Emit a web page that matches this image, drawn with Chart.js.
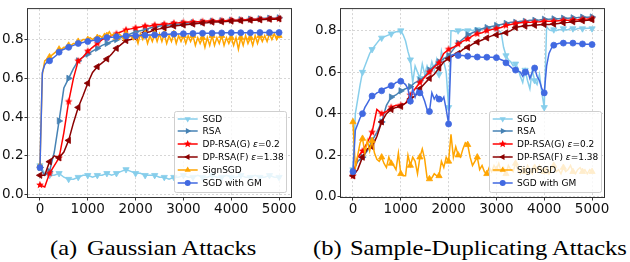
<!DOCTYPE html>
<html><head><meta charset="utf-8">
<script src="https://cdn.jsdelivr.net/npm/chart.js@4.4.1/dist/chart.umd.min.js"></script>
<style>
html,body{margin:0;padding:0;background:#fff;}
body{width:630px;height:262px;position:relative;overflow:hidden;}
canvas{position:absolute;top:0;}
#c1{left:0}#c2{left:313px}
.legend{position:absolute;width:111px;height:80px;border:1px solid #cfcfcf;border-radius:2.5px;background:rgba(255,255,255,0.8);font-family:"DejaVu Sans";font-size:9px;color:#000;}
.row{position:absolute;left:0;height:12px;width:110px;}
.row svg{position:absolute;left:2px;top:0;}
.row span{position:absolute;left:27.5px;top:0;line-height:12px;white-space:nowrap;}
.cap{position:absolute;top:238.4px;font-family:"Liberation Serif","Times New Roman",serif;font-size:21px;line-height:21px;transform:scaleX(1.166);transform-origin:0 0;white-space:nowrap;color:#000;}
</style></head>
<body>
<canvas id="c1" width="300" height="215"></canvas>
<canvas id="c2" width="300" height="215"></canvas>
<div class="legend" id="lg1" style="left:174px;top:111px"></div>
<div class="legend" id="lg2" style="left:488.5px;top:111px"></div>
<div class="cap" style="left:50px">(a)</div><div class="cap" style="left:87.3px">Gaussian Attacks</div>
<div class="cap" style="left:313px">(b)</div><div class="cap" style="left:350px">Sample-Duplicating Attacks</div>
<script>
// ---------- data ----------
const seriesNames = ['SGD','RSA','DP-RSA(G) ε=0.2','DP-RSA(F) ε=1.38','SignSGD','SGD with GM'];
const xTicks = [0,1000,2000,3000,4000,5000];
const yTicks = [0,0.2,0.4,0.6,0.8];

// (a) Gaussian attacks
const gSGD = [0.15,0.11,0.10,0.10,0.11,0.09,0.08,0.08,0.09,0.10,
 0.10,0.09,0.10,0.10,0.11,0.10,0.11,0.12,0.13,0.12,
 0.11,0.11,0.10,0.10,0.10,0.09,0.09,0.08,0.09,0.09,
 0.10,0.09,0.09,0.10,0.09,0.09,0.10,0.09,0.09,0.10,
 0.09,0.09,0.10,0.09,0.09,0.10,0.09,0.09,0.10,0.09,
 0.09];
const gRSA = [0.14,0.10,0.12,0.22,0.38,0.55,0.60,0.65,0.69,0.71,
 0.725,0.74,0.755,0.77,0.78,0.79,0.80,0.81,0.82,0.83,
 0.84,0.845,0.85,0.86,0.865,0.87,0.872,0.875,0.878,0.88,
 0.883,0.885,0.887,0.89,0.89,0.892,0.895,0.895,0.897,0.898,
 0.90,0.90,0.902,0.903,0.905,0.905,0.907,0.91,0.91,0.91,
 0.912];
const gDPG = [0.05,0.04,0.11,0.15,0.19,0.32,0.48,0.60,0.69,0.71,
 0.74,0.76,0.78,0.80,0.81,0.82,0.83,0.84,0.85,0.855,
 0.86,0.865,0.87,0.87,0.875,0.878,0.88,0.882,0.885,0.886,
 0.888,0.89,0.89,0.892,0.893,0.895,0.895,0.896,0.897,0.898,
 0.90,0.90,0.90,0.902,0.903,0.905,0.905,0.906,0.907,0.908,
 0.908];
const gDPF = [0.10,0.10,0.17,0.20,0.19,0.22,0.28,0.37,0.45,0.51,
 0.575,0.63,0.66,0.68,0.70,0.725,0.755,0.775,0.795,0.80,
 0.81,0.82,0.835,0.84,0.85,0.855,0.86,0.865,0.87,0.873,
 0.875,0.878,0.88,0.883,0.885,0.887,0.89,0.89,0.892,0.893,
 0.895,0.896,0.897,0.898,0.90,0.90,0.902,0.903,0.905,0.905,
 0.907];
const gSign = [0.15,0.62,0.69,0.70,0.71,0.72,0.73,0.74,0.75,0.75,
 0.76,0.76,0.77,0.77,0.78,0.78,0.79,0.79,0.80,0.80,
 0.80,0.81,0.80,0.81,0.81,0.82,0.81,0.83,0.82,0.84,
 0.82,0.83,0.81,0.83,0.82,0.80,0.83,0.81,0.82,0.80,
 0.82,0.78,0.83,0.80,0.83,0.78,0.82,0.79,0.83,0.79,
 0.83,0.79,0.83,0.78,0.82,0.79,0.83,0.78,0.82,0.79,
 0.82,0.78,0.82,0.79,0.82,0.77,0.81,0.78,0.81,0.76,
 0.81,0.77,0.82,0.77,0.81,0.78,0.82,0.77,0.81,0.78,
 0.81,0.77,0.81,0.75,0.81,0.77,0.82,0.78,0.81,0.77,
 0.82,0.78,0.82,0.79,0.82,0.79,0.83,0.80,0.83,0.80,
 0.82];
const gGM = [0.14,0.63,0.67,0.685,0.69,0.70,0.71,0.72,0.735,0.745,
 0.75,0.755,0.76,0.765,0.77,0.775,0.78,0.782,0.785,0.788,
 0.79,0.792,0.795,0.797,0.80,0.802,0.805,0.807,0.81,0.81,
 0.812,0.813,0.815,0.815,0.816,0.817,0.818,0.819,0.82,0.82,
 0.82,0.821,0.821,0.822,0.822,0.823,0.823,0.824,0.824,0.825,
 0.825,0.826,0.826,0.827,0.827,0.828,0.828,0.829,0.829,0.83,
 0.83,0.83,0.83,0.831,0.831,0.831,0.832,0.832,0.832,0.833,
 0.833,0.833,0.833,0.834,0.834,0.834,0.834,0.835,0.835,0.835,
 0.835,0.835,0.835,0.835,0.835,0.835,0.835,0.835,0.835,0.835,
 0.835,0.835,0.836,0.836,0.836,0.836,0.836,0.836,0.836,0.836,
 0.836];

// (b) Sample-duplicating attacks
const sSGD = [0.13,0.40,0.47,0.54,0.60,0.63,0.66,0.69,0.71,0.725,
 0.74,0.755,0.765,0.77,0.775,0.78,0.785,0.79,0.795,0.795,
 0.80,0.78,0.75,0.70,0.66,0.55,0.63,0.60,0.57,0.64,
 0.59,0.63,0.60,0.65,0.61,0.66,0.59,0.70,0.65,0.60,
 0.43,0.80,0.80,0.795,0.80,0.80,0.805,0.80,0.80,0.805,
 0.80,0.805,0.805,0.81,0.805,0.81,0.805,0.81,0.81,0.805,
 0.81,0.80,0.79,0.72,0.68,0.66,0.65,0.63,0.64,0.62,
 0.58,0.55,0.61,0.56,0.52,0.61,0.56,0.54,0.59,0.50,
 0.43,0.82,0.805,0.80,0.805,0.80,0.805,0.805,0.81,0.805,
 0.805,0.81,0.81,0.805,0.81,0.81,0.81,0.81,0.812,0.812,
 0.81];
const sRSA = [0.12,0.17,0.19,0.22,0.27,0.31,0.36,0.44,0.48,0.49,
 0.51,0.52,0.53,0.55,0.56,0.58,0.61,0.63,0.65,0.665,
 0.68,0.71,0.74,0.76,0.78,0.79,0.80,0.81,0.815,0.82,
 0.825,0.83,0.835,0.84,0.84,0.845,0.845,0.85,0.85,0.852,
 0.855,0.855,0.857,0.858,0.86,0.86,0.862,0.863,0.865,0.865,
 0.866];
const sDPG = [0.10,0.19,0.22,0.26,0.31,0.42,0.40,0.41,0.43,0.44,
 0.44,0.45,0.49,0.52,0.55,0.575,0.60,0.625,0.645,0.69,
 0.71,0.72,0.735,0.75,0.76,0.775,0.785,0.79,0.80,0.805,
 0.81,0.815,0.825,0.83,0.835,0.838,0.84,0.84,0.842,0.843,
 0.845,0.845,0.846,0.848,0.85,0.85,0.852,0.853,0.855,0.856,
 0.858];
const sDPF = [0.10,0.13,0.19,0.23,0.24,0.29,0.36,0.40,0.42,0.43,
 0.435,0.45,0.47,0.485,0.52,0.545,0.57,0.59,0.62,0.65,
 0.665,0.68,0.69,0.71,0.72,0.735,0.745,0.755,0.765,0.775,
 0.78,0.785,0.79,0.80,0.815,0.82,0.822,0.825,0.826,0.828,
 0.83,0.83,0.832,0.835,0.838,0.84,0.843,0.845,0.848,0.85,
 0.853];
const sSign = [0.36,0.14,0.20,0.26,0.28,0.21,0.27,0.22,0.27,0.21,
 0.18,0.17,0.19,0.16,0.14,0.19,0.16,0.15,0.13,0.21,
 0.11,0.10,0.10,0.20,0.15,0.19,0.17,0.11,0.19,0.23,
 0.18,0.09,0.085,0.09,0.11,0.10,0.10,0.17,0.14,0.19,
 0.17,0.30,0.19,0.24,0.20,0.19,0.23,0.26,0.25,0.19,
 0.15,0.17,0.19,0.13,0.15,0.12,0.11,0.14,0.12,0.15,
 0.13,0.16,0.12,0.14,0.11,0.15,0.13,0.12,0.16,0.13,
 0.11,0.14,0.12,0.15,0.13,0.11,0.14,0.12,0.15,0.13,
 0.12,0.14,0.11,0.13,0.15,0.12,0.13,0.11,0.14,0.12,
 0.13,0.15,0.12,0.11,0.13,0.14,0.12,0.13,0.11,0.13,
 0.12];
const sGM = [0.12,0.32,0.35,0.38,0.40,0.43,0.45,0.47,0.485,0.49,
 0.50,0.505,0.51,0.52,0.525,0.53,0.535,0.54,0.55,0.553,
 0.556,0.55,0.54,0.52,0.46,0.52,0.48,0.515,0.50,0.49,
 0.46,0.42,0.41,0.50,0.47,0.49,0.47,0.46,0.48,0.42,
 0.35,0.68,0.685,0.685,0.68,0.68,0.68,0.678,0.677,0.676,
 0.675,0.674,0.673,0.673,0.672,0.672,0.672,0.672,0.672,0.671,
 0.67,0.665,0.66,0.655,0.645,0.635,0.625,0.615,0.61,0.605,
 0.60,0.58,0.60,0.61,0.57,0.60,0.62,0.58,0.56,0.52,
 0.50,0.63,0.69,0.715,0.73,0.735,0.738,0.74,0.74,0.74,
 0.74,0.74,0.74,0.738,0.738,0.737,0.736,0.735,0.735,0.734,
 0.733];

// ---------- styles ----------
const MARK = [
 {color:'#87CEEB', style:'triangle', rot:180, r:3.6},
 {color:'#4682B4', style:'triangle', rot:90,  r:3.6},
 {color:'#FF0000', style:'star',     rot:0,   r:4.0},
 {color:'#8B0000', style:'triangle', rot:270, r:3.6},
 {color:'#FFA500', style:'triangle', rot:0,   r:3.6},
 {color:'#4169E1', style:'circle',   rot:0,   r:3.0}
];
function starPts(cx, cy, r){
  const p=[];
  for(let k=0;k<10;k++){const a=-Math.PI/2+k*Math.PI/5; const rr=k%2? r*0.45:r; p.push([cx+rr*Math.cos(a), cy+rr*Math.sin(a)]);}
  return p;
}
function starImg(color, r){
  const c=document.createElement('canvas'); const s=Math.ceil(r*2+2); c.width=c.height=s;
  const g=c.getContext('2d'); g.fillStyle=color; g.beginPath();
  starPts(s/2,s/2,r).forEach(([x,y],i)=> i?g.lineTo(x,y):g.moveTo(x,y)); g.closePath(); g.fill();
  return c;
}
function series(ys, step, k){
  const m=MARK[k];
  return {
    label: seriesNames[k],
    data: ys.map((y,i)=>({x:i*step, y:y})),
    borderColor:m.color, backgroundColor:m.color, borderWidth:1.5,
    pointStyle: m.style==='star'? starImg(m.color,m.r) : m.style,
    pointRotation:m.rot,
    pointRadius: ys.map((y,i)=> (i*step)%200===0 ? m.r : 0),
    pointHoverRadius:0,
    pointBackgroundColor:m.color, pointBorderColor:m.color, pointBorderWidth:0.8,
    tension:0, order:5-k, fill:false
  };
}
const frame={id:'frame', afterDatasetsDraw(chart){
  const {ctx, chartArea:a}=chart; ctx.save(); ctx.strokeStyle='#333'; ctx.lineWidth=1;
  ctx.strokeRect(a.left-0.5,a.top-0.5,a.width+1,a.height+1); ctx.restore();
}};
function axisOpts(min,max,ticks,isX){
  const o={
    type:'linear', min:min, max:max,
    afterBuildTicks:(ax)=>{ ax.ticks=ticks.map(v=>({value:v})); },
    ticks:{font:{family:'DejaVu Sans',size:13.5}, color:'#111', padding:1, autoSkip:false, maxRotation:0,
      callback:(v)=> isX? String(v) : v.toFixed(1)},
    grid:{color:'#cccccc', lineWidth:0.8, drawTicks:true, tickLength:3.5, tickColor:'#333', tickWidth:1},
    border:{display:false, dash:[2,2]}
  };
  if(isX) o.afterFit=(s)=>{s.height=18;}; else o.afterFit=(s)=>{s.width=28;};
  return o;
}
function makeChart(id, sets, ymin, ymax){
  return new Chart(document.getElementById(id), {
    type:'line',
    data:{datasets:sets},
    options:{
      responsive:false, animation:false, events:[],
      layout:{padding:{left:0,right:9,top:2,bottom:0}},
      plugins:{legend:{display:false}, tooltip:{enabled:false}},
      scales:{x:axisOpts(-250,5250,xTicks,true), y:axisOpts(ymin,ymax,yTicks,false)}
    },
    plugins:[frame]
  });
}
makeChart('c1',[series(gSGD,100,0),series(gRSA,100,1),series(gDPG,100,2),series(gDPF,100,3),series(gSign,50,4),series(gGM,50,5)], -0.012, 0.957);
makeChart('c2',[series(sSGD,50,0),series(sRSA,100,1),series(sDPG,100,2),series(sDPF,100,3),series(sSign,50,4),series(sGM,50,5)], -0.002, 0.904);

// ---------- legends ----------
function markerSVG(m){
  const cx=10.7, cy=6;
  let shape='';
  if(m.style==='circle') shape=`<circle cx="${cx}" cy="${cy}" r="${m.r}" fill="${m.color}"/>`;
  else {
    let pts;
    if(m.style==='star') pts=starPts(cx,cy,m.r);
    else { pts=[]; for(let k=0;k<3;k++){const a=(m.rot+k*120)*Math.PI/180; pts.push([cx+Math.sin(a)*m.r, cy-Math.cos(a)*m.r]);} }
    shape=`<polygon points="${pts.map(p=>p[0].toFixed(2)+','+p[1].toFixed(2)).join(' ')}" fill="${m.color}"/>`;
  }
  return `<svg width="22" height="12" viewBox="0 0 22 12"><line x1="0.7" y1="${cy}" x2="20.7" y2="${cy}" stroke="${m.color}" stroke-width="1.5"/>${shape}</svg>`;
}
['lg1','lg2'].forEach(id=>{
  const el=document.getElementById(id);
  seriesNames.forEach((n,k)=>{
    const row=document.createElement('div'); row.className='row';
    row.style.top=(7.5+12.85*k-6-1)+'px';
    row.innerHTML=markerSVG(MARK[k])+'<span>'+n.replace('ε','<i>ε</i>')+'</span>';
    el.appendChild(row);
  });
});
</script>
</body></html>
